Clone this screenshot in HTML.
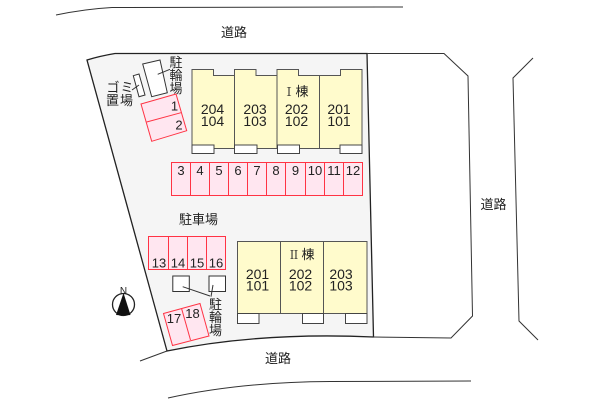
<!DOCTYPE html>
<html><head><meta charset="utf-8"><style>
html,body{margin:0;padding:0;background:#fff}
svg{display:block}
text{font-family:"Liberation Sans","Noto Sans CJK JP",sans-serif;fill:#222;text-anchor:middle}
.n{font-size:14px}.p{font-size:13px}.j{font-size:13px}
.s{font-family:"Noto Serif CJK JP","Noto Serif CJK SC",serif;font-size:12px}
.b{fill:#fffbcc;stroke:#555;stroke-width:1}
.w{fill:#fff;stroke:#444;stroke-width:1}
.r{fill:#ffe6f0;stroke:#ff3344;stroke-width:1}
.l{fill:none;stroke:#333;stroke-width:1}
</style></head><body>
<svg width="600" height="400" viewBox="0 0 600 400" xmlns="http://www.w3.org/2000/svg">
<rect width="600" height="400" fill="#fff"/>
<path d="M87 60Q100 56 115 53.500L367 53.500L373.500 337Q260 332 167 351Z" fill="#f5f5f5" stroke="#222" stroke-width="1.300"/>
<path class="l" d="M367 53.500H444L468 76L472.500 316L451 338L373 337"/>
<path class="l" d="M533 58L513 78L519 321L538 340"/>
<path class="l" d="M140 361L167 351"/>
<path class="l" d="M56 15Q85 9 112 7.500L403 7"/>
<path class="l" d="M168 398Q240 382 330 381.500L471 381"/>
<path class="b" d="M192 69.500H213.500V75.500H234.500V69.500H256V75.500H277V69.500H298.500V75.500H340.500V69.500H362V148.500H192Z"/>
<path class="l" style="stroke:#555" d="M234.500 69.500V148.500M277 69.500V148.500M319.500 75.500V148.500"/>
<rect class="w" x="192" y="145" width="22" height="8.500"/>
<rect class="w" x="234.500" y="145" width="22.500" height="8.500"/>
<rect class="w" x="277.500" y="145" width="22" height="8.500"/>
<rect class="w" x="340" y="145" width="22" height="8.500"/>
<rect class="b" x="237.500" y="241.500" width="129.500" height="72"/>
<path class="l" style="stroke:#555" d="M280.500 241.500V313.500M323.500 241.500V313.500"/>
<rect class="w" x="237.500" y="313.500" width="21.500" height="10"/>
<rect class="w" x="302.500" y="313.500" width="21" height="10"/>
<rect class="w" x="345.500" y="313.500" width="21.500" height="10"/>
<rect class="r" x="171.500" y="162.500" width="191" height="33"/>
<path class="r" d="M190.500 162.500V195.500M209.500 162.500V195.500M228.500 162.500V195.500M247.500 162.500V195.500M266.500 162.500V195.500M285.500 162.500V195.500M305.500 162.500V195.500M324.500 162.500V195.500M343.500 162.500V195.500"/>
<rect class="r" x="148.500" y="236.500" width="77" height="33"/>
<path class="r" d="M168.500 236.500V269.500M187.500 236.500V269.500M206.500 236.500V269.500"/>
<path class="r" d="M163.500 313.500L200 303.500L209 336L172.500 345.500Z"/>
<path class="r" d="M181.700 309L190.500 340"/>
<path class="r" d="M141 104L176 94L186.700 130.700L151.700 141.300Z"/>
<path class="r" d="M146.700 122L181 112.700"/>
<path d="M142.700 64L160 60L167.300 92.700L151.700 96.700Z" fill="#fff" stroke="#333"/>
<path d="M133.300 75.700L139 74L145 95L139 96.700Z" fill="#fff" stroke="#333"/>
<path class="l" d="M157.700 74.300L170 69.300M132 90L139 85"/>
<rect x="172.800" y="276" width="16.500" height="15.500" fill="#fff" stroke="#333"/>
<rect x="209" y="276" width="16.500" height="15.500" fill="#fff" stroke="#333"/>
<path class="l" d="M182.700 286.700L210 296M213 285L211 296.700"/>
<circle cx="123.500" cy="304.500" r="11" fill="#fff" stroke="#222" stroke-width="1.300"/>
<path d="M123.500 293L130.500 315L123.500 315.500L116 315Z" fill="#111"/>
<text x="123.500" y="294" style="font-size:10px">N</text>
<text class="j" x="234" y="37">道路</text>
<text class="j" x="493.500" y="209">道路</text>
<text class="j" x="278" y="363">道路</text>
<text class="j" x="198.500" y="224">駐車場</text>
<text class="j" x="176" y="67">駐</text><text class="j" x="176" y="80">輪</text><text class="j" x="176" y="93">場</text>
<text class="j" x="113" y="92">ゴ</text><text class="j" x="127" y="92">ミ</text><text class="j" x="112.500" y="105">置</text><text class="j" x="126.500" y="105">場</text>
<text class="j" x="215.500" y="309">駐</text><text class="j" x="215.500" y="322">輪</text><text class="j" x="215.500" y="335">場</text>
<text class="s" x="289" y="96">Ⅰ</text><text class="j" x="302" y="96">棟</text>
<text class="s" x="294" y="259">Ⅱ</text><text class="j" x="308" y="259">棟</text>
<text class="n" x="212.500" y="114">204</text><text class="n" x="212.500" y="126">104</text>
<text class="n" x="255" y="114">203</text><text class="n" x="255" y="126">103</text>
<text class="n" x="296.500" y="114">202</text><text class="n" x="296.500" y="126">102</text>
<text class="n" x="339" y="114">201</text><text class="n" x="339" y="126">101</text>
<text class="n" x="257.500" y="279">201</text><text class="n" x="257.500" y="290.500">101</text>
<text class="n" x="300.500" y="279">202</text><text class="n" x="300.500" y="290.500">102</text>
<text class="n" x="341" y="279">203</text><text class="n" x="341" y="290.500">103</text>
<text class="p" x="181" y="175">3</text><text class="p" x="200" y="175">4</text><text class="p" x="219" y="175">5</text><text class="p" x="238" y="175">6</text><text class="p" x="257" y="175">7</text><text class="p" x="276" y="175">8</text><text class="p" x="295.500" y="175">9</text><text class="p" x="315" y="175">10</text><text class="p" x="334" y="175">11</text><text class="p" x="353" y="175">12</text>
<text class="p" x="159" y="267.500">13</text><text class="p" x="178" y="267.500">14</text><text class="p" x="197" y="267.500">15</text><text class="p" x="216" y="267.500">16</text>
<text class="p" x="174.500" y="110.500">1</text><text class="p" x="179" y="129.500">2</text>
<text class="p" x="174" y="323">17</text><text class="p" x="192.500" y="318">18</text>
</svg>
</body></html>
